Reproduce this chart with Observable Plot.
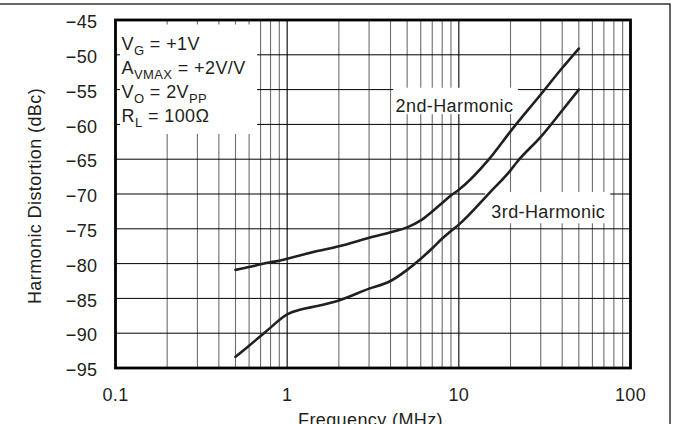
<!DOCTYPE html>
<html>
<head>
<meta charset="utf-8">
<script src="https://cdn.jsdelivr.net/npm/d3@7"></script>
<script src="https://cdn.jsdelivr.net/npm/@observablehq/plot@0.6"></script>
<style>
  body { margin: 0; background: #fff; }
  #chart svg { display: block; }
  #chart svg text { letter-spacing: 0.4px; }
</style>
</head>
<body>
<div id="chart"></div>
<script>
// ---- data ----
const freq2 = [0.5, 0.6, 0.7, 0.8, 0.9, 1, 1.5, 2, 3, 4, 5, 6, 7, 8, 9, 10, 15, 20, 30, 40, 50];
const h2    = [-80.9, -80.5, -80.1, -79.8, -79.6, -79.3, -78.2, -77.5, -76.3, -75.5, -74.8, -73.8, -72.5, -71.3, -70.2, -69.4, -65.0, -61.0, -55.7, -51.9, -49.1];
const freq3 = [0.5, 0.6, 0.7, 0.8, 0.9, 1, 1.2, 1.5, 2, 3, 4, 5, 6, 7, 8, 9, 10, 15, 20, 22, 30, 40, 50];
const h3    = [-93.4, -91.8, -90.4, -89.2, -88.1, -87.3, -86.6, -86.1, -85.3, -83.6, -82.5, -80.9, -79.3, -77.8, -76.4, -75.3, -74.4, -69.9, -66.6, -65.3, -61.8, -58.0, -55.0];
const seriesNames = ["2nd-Harmonic", "3rd-Harmonic"];
const xTicks = [0.1, 1, 10, 100];
const yTicks = [-45, -50, -55, -60, -65, -70, -75, -80, -85, -90, -95];
const minorX = [0.2, 0.3, 0.4, 0.5, 0.6, 0.7, 0.8, 0.9, 2, 3, 4, 5, 6, 7, 8, 9, 20, 30, 40, 50, 60, 70, 80, 90];
const majorX = [1, 10];
const conditions = ["V_{G} = +1V", "A_{VMAX} = +2V/V", "V_{O} = 2V_{PP}", "R_{L} = 100Ω"];
const xTitle = "Frequency (MHz)";
const yTitle = "Harmonic Distortion (dBc)";

const rows2 = freq2.map((f, i) => ({f, db: h2[i]}));
const rows3 = freq3.map((f, i) => ({f, db: h3[i]}));

// annotation placement (data space)
const condRows = conditions.map((t, i) => ({t, f: 0.1084, db: [-49.24, -52.73, -56.21, -59.69][i]}));
const labelRows = [
  {t: seriesNames[0], f: 4.28, db: -58.15},
  {t: seriesNames[1], f: 15.47, db: -73.48}
];
const boxes = [
  {x1: 0.1, x2: 0.672, y1: -45, y2: -61.45},
  {x1: 4.17, x2: 22.3, y1: -54.8, y2: -58.6},
  {x1: 14.33, x2: 76.7, y1: -69.78, y2: -74.28}
];

const ink = "#231f20";

const chart = Plot.plot({
  width: 673,
  height: 424,
  marginLeft: 115,
  marginRight: 43,
  marginTop: 19.5,
  marginBottom: 56.5,
  style: {fontFamily: "'Liberation Sans', Arial, Helvetica, sans-serif", fontSize: "18px", background: "#fff", color: ink},
  x: {type: "log", domain: [0.1, 100]},
  y: {domain: [-95, -45]},
  marks: [
    Plot.ruleX(minorX, {stroke: "#6e6e6e", strokeWidth: 1.1}),
    Plot.ruleX(majorX, {stroke: "#000", strokeWidth: 1.1}),
    Plot.ruleY(yTicks.slice(1, -1), {stroke: "#000", strokeWidth: 1}),
    Plot.rect(boxes.slice(0, 1), {x1: "x1", x2: "x2", y1: "y1", y2: "y2", insetLeft: 5, insetTop: 5, fill: "#fff"}),
    Plot.rect(boxes.slice(1), {x1: "x1", x2: "x2", y1: "y1", y2: "y2", fill: "#fff"}),
    Plot.line(rows2, {x: "f", y: "db", stroke: ink, strokeWidth: 2.6, curve: "monotone-x"}),
    Plot.line(rows3, {x: "f", y: "db", stroke: ink, strokeWidth: 2.6, curve: "monotone-x"}),
    Plot.axisX({ticks: xTicks, tickSize: 0, tickPadding: 20.5, tickFormat: d => String(d), label: null, fontSize: 18}),
    Plot.axisY({ticks: yTicks, tickSize: 0, tickPadding: 18, dy: 2.5, tickFormat: d => "\u2212" + Math.abs(d), label: null, fontSize: 18}),
    Plot.text(condRows, {x: "f", y: "db", text: "t", textAnchor: "start", lineAnchor: "bottom", fontSize: 18, fill: ink}),
    Plot.text(labelRows, {x: "f", y: "db", text: "t", textAnchor: "start", lineAnchor: "bottom", fontSize: 18, fill: ink}),
    Plot.text([yTitle], {frameAnchor: "left", textAnchor: "middle", lineAnchor: "middle", dx: -80, dy: 2, rotate: -90, fontSize: 18, fill: ink}),
    Plot.text([xTitle], {frameAnchor: "bottom", textAnchor: "middle", lineAnchor: "top", dx: -2.5, dy: 45.5, fontSize: 18, fill: ink}),
    Plot.frame({stroke: "#000", strokeWidth: 2.8})
  ]
});

// subscripts: turn "_{...}" into real tspans
d3.select(chart).selectAll("text").each(function () {
  const s = this.textContent;
  if (!s.includes("_{")) return;
  const parts = s.split(/(_\{[^}]*\})/).filter(p => p.length);
  const sel = d3.select(this);
  sel.text(null);
  let shifted = false;
  for (const p of parts) {
    if (p.startsWith("_{")) {
      sel.append("tspan").attr("font-size", "13px").attr("dy", shifted ? 0 : 5).text(p.slice(2, -1));
      shifted = true;
    } else {
      const ts = sel.append("tspan").text(p);
      if (shifted) { ts.attr("dy", -5); shifted = false; }
    }
  }
});

// outer panel border
d3.select(chart).append("rect")
  .attr("x", -2).attr("y", 4).attr("width", 672).attr("height", 440)
  .attr("fill", "none").attr("stroke", "#000").attr("stroke-width", 1.2);

document.getElementById("chart").append(chart);
</script>
</body>
</html>
